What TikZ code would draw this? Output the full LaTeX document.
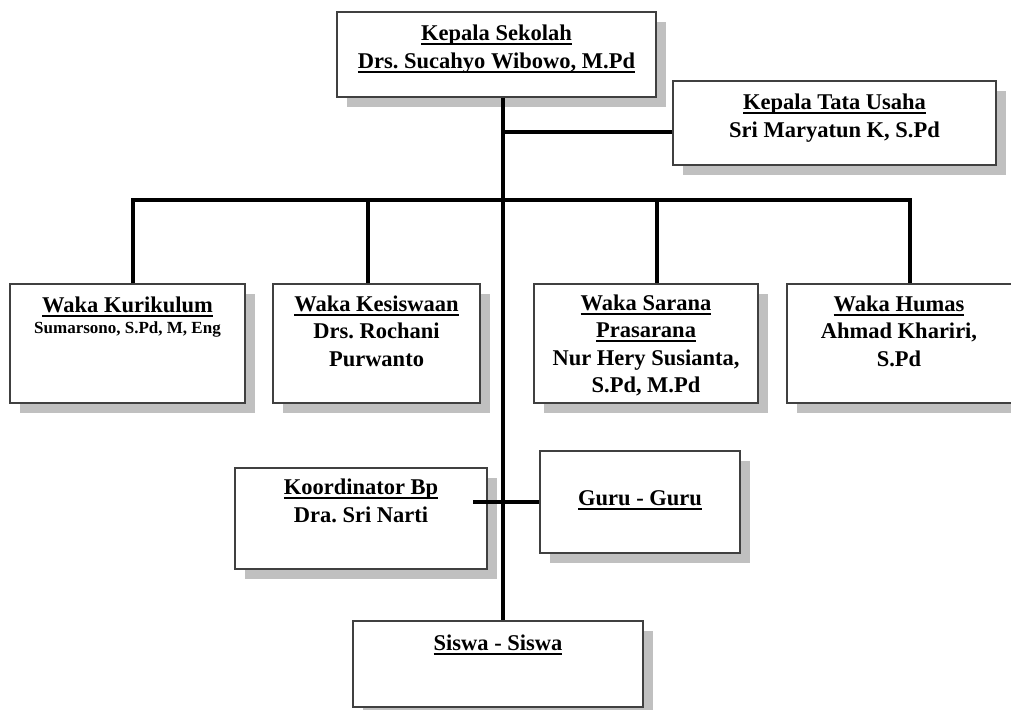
\documentclass[tikz,border=0pt]{standalone}
\usepackage{fontspec}
\setmainfont{Liberation Serif}
\usetikzlibrary{shadows}
\definecolor{shadowgray}{HTML}{C0C0C0}
\definecolor{boxline}{HTML}{404040}
\newcommand\myul[1]{\setbox0\hbox{#1}\rlap{\rule[-4.5pt]{\wd0}{2pt}}\box0}
\frenchspacing
\begin{document}
\begin{tikzpicture}[x=1pt,y=-1pt,
  orgbox/.style={draw=boxline, line width=1.3pt, fill=white, inner sep=0pt,
    general shadow={fill=shadowgray, shadow xshift=10pt, shadow yshift=-10pt}},
  lbl/.style={font=\bfseries\fontsize{22.5}{27.5}\selectfont\frenchspacing, align=center, anchor=base, inner sep=0pt},
  lblsmall/.style={font=\bfseries\fontsize{17}{21}\selectfont\frenchspacing, anchor=base, inner sep=0pt},
  conn/.style={line width=4.5pt}]
\useasboundingbox (0,0) rectangle (1011,709);
\fill[white] (0,0) rectangle (1011,709);
% boxes
\node[orgbox, minimum width=319pt, minimum height=85pt]  (ks)  at (496.5,54.5) {};
\node[orgbox, minimum width=323pt, minimum height=84pt]  (tu)  at (834.5,123) {};
\node[orgbox, minimum width=235pt, minimum height=119pt] (kur) at (127.5,343.5) {};
\node[orgbox, minimum width=207pt, minimum height=119pt] (kes) at (376.5,343.5) {};
\node[orgbox, minimum width=224pt, minimum height=119pt] (sar) at (646,343.5) {};
\node[orgbox, minimum width=232pt, minimum height=119pt] (hum) at (903,343.5) {};
\node[orgbox, minimum width=252pt, minimum height=101pt] (kb)  at (361,518.5) {};
\node[orgbox, minimum width=200pt, minimum height=102pt] (gu)  at (640,502) {};
\node[orgbox, minimum width=290pt, minimum height=86pt]  (ss)  at (498,664) {};
% texts (anchor = baseline of the last line)
\node[lbl] (kst) at (496.5,68) {\myul{Kepala Sekolah}\\\myul{Drs. Sucahyo Wibowo, M.Pd}};
\node[lbl] (tut) at (834.5,137) {\myul{Kepala Tata Usaha}\\Sri Maryatun K, S.Pd};
\node[lbl] (kurt) at (127.5,312) {\myul{Waka Kurikulum}};
\node[lblsmall] (kurn) at (127.5,333) {Sumarsono, S.Pd, M, Eng};
\node[lbl] (kest) at (376.5,366) {\myul{Waka Kesiswaan}\\Drs. Rochani\\Purwanto};
\node[lbl] (sart) at (646,392.5) {\myul{Waka Sarana}\\\myul{Prasarana}\\Nur Hery Susianta,\\S.Pd, M.Pd};
\node[lbl] (humt) at (899,366) {\myul{Waka Humas}\\Ahmad Khariri,\\S.Pd};
\node[lbl] (kbt) at (361,522) {\myul{Koordinator Bp}\\Dra. Sri Narti};
\node[lbl] (gut) at (640,505) {\myul{Guru - Guru}};
\node[lbl] (sst) at (498,650) {\myul{Siswa - Siswa}};
% connectors
\coordinate (sp) at (503,0);
\coordinate (tub) at ([yshift=-9pt]tu.west);
\coordinate (d1) at (133,200);
\coordinate (d2) at (368,200);
\coordinate (d3) at (657,200);
\coordinate (d4) at (910,200);
\coordinate (kg) at (473,502);
\draw[conn] (ks.south -| sp) -- (ss.north -| sp);
\draw[conn] (tub) -- (tub -| sp);
\draw[conn] (d1 |- kur.north) -- (d1) -- (d4) -- (d4 |- hum.north);
\draw[conn] (d2) -- (d2 |- kes.north);
\draw[conn] (d3) -- (d3 |- sar.north);
\draw[conn] (kg) -- (kg -| gu.west);
\end{tikzpicture}
\end{document}
